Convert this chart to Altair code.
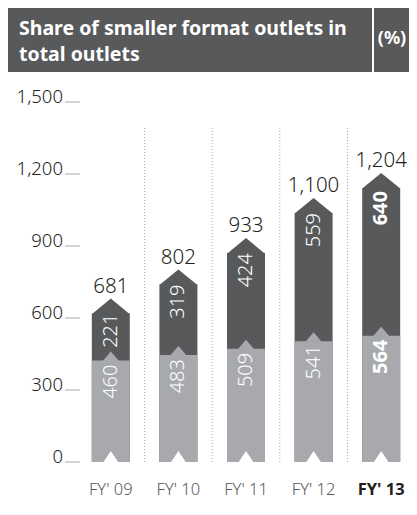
import altair as alt
import pandas as pd

# ---- data ----
years = ["FY' 09", "FY' 10", "FY' 11", "FY' 12", "FY' 13"]
lower_part = [460, 483, 509, 541, 564]
upper_part = [221, 319, 424, 559, 640]
totals = [681, 802, 933, 1100, 1204]
y_ticks = [0, 300, 600, 900, 1200, 1500]
header_lines = ["Share of smaller format outlets in", "total outlets"]
unit_label = "(%)"

df = pd.DataFrame({"year": years, "lower": lower_part, "upper": upper_part, "total": totals})
sep_df = pd.DataFrame({"year": years[1:]})
tick_df = pd.DataFrame({"tick": y_ticks})
one = pd.DataFrame({"k": [0]})

DARK = "#58595b"
LIGHT = "#a7a9ac"
INK = "#231f20"
FONT = "Noto Sans"
LIGHTW = 300
W, H = 329, 360
STEP = 67.6
X0 = -3.0

xscale = alt.Scale(domain=years, range=[X0, X0 + 5 * STEP], paddingInner=0, paddingOuter=0)
yscale = alt.Scale(domain=[0, 1500], nice=False)

last = years[-1]
not_last = alt.FieldOneOfPredicate(field="year", oneOf=years[:-1])
is_last = alt.FieldEqualPredicate(field="year", equal=last)

X = alt.X("year:N", scale=xscale, sort=years, axis=None)


def Yq(field):
    return alt.Y(f"{field}:Q", scale=yscale, axis=None, stack=None)


# dark body, full-width arrow tip
dark_rect = alt.Chart(df).mark_bar(size=38, yOffset=15, color=DARK).encode(x=X, y=Yq("total"))
TIP_BIG = "M0,0L1,0.82L-1,0.82Z"
dark_tip = alt.Chart(df).mark_point(shape=TIP_BIG, size=1444, filled=True, fill=DARK,
                                    strokeWidth=0, opacity=1).encode(x=X, y=Yq("total"))

# light body, narrow arrow tip
light_rect = alt.Chart(df).mark_bar(size=38, yOffset=9, color=LIGHT).encode(x=X, y=Yq("lower"))
TIP_SMALL = "M0,0L0.43,0.5L-0.43,0.5Z"
light_tip = alt.Chart(df).mark_point(shape=TIP_SMALL, size=1444, filled=True, fill=LIGHT,
                                     strokeWidth=0, opacity=1).encode(x=X, y=Yq("lower"))

# white notch at the base
NOTCH = "M-0.43,0.06L0.43,0.06L0,-0.58Z"
notch = alt.Chart(df).transform_calculate(base="0").mark_point(
    shape=NOTCH, size=1444, filled=True, fill="white", strokeWidth=0, opacity=1).encode(
    x=X, y=Yq("base"))

# dotted separators between years
seps = alt.Chart(sep_df).transform_calculate(lo="0", hi="1400").mark_rule(
    color="#a7a9ac", strokeDash=[1, 2], strokeWidth=1, xOffset=-STEP / 2).encode(
    x=X, y=Yq("lo"), y2="hi:Q")

# y axis (ticks + labels through the y scale)
y_tick_marks = alt.Chart(tick_df).mark_tick(
    color=LIGHT, thickness=1.5, size=15, orient="horizontal", xOffset=-7.5).encode(
    x=alt.value(0), y=Yq("tick"))
y_tick_labels = alt.Chart(tick_df).mark_text(
    align="right", baseline="alphabetic", dy=1, fontSize=18.5, color=INK, font=FONT,
    fontWeight=LIGHTW).encode(
    x=alt.value(-17), y=Yq("tick"), text=alt.Text("tick:Q", format=","))

# x axis labels
x_lbl_norm = alt.Chart(df).transform_filter(not_last).mark_text(
    baseline="alphabetic", fontSize=16.5, color=DARK, font=FONT, fontWeight=LIGHTW,
    dy=H + 33).encode(x=X, y=alt.value(0), text="year:N")
x_lbl_bold = alt.Chart(df).transform_filter(is_last).mark_text(
    baseline="alphabetic", fontSize=16.5, color=INK, font=FONT, fontWeight="bold",
    dy=H + 33).encode(x=X, y=alt.value(0), text="year:N")

total_lbl = alt.Chart(df).mark_text(dy=-6, fontSize=20.5, color=INK, baseline="alphabetic",
                                    font=FONT, fontWeight=LIGHTW).encode(
    x=X, y=Yq("total"), text=alt.Text("total:Q", format=","))


def seg_labels(field, top_field, dx, weight, pred):
    return alt.Chart(df).transform_filter(pred).mark_text(
        angle=270, align="right", baseline="middle", dx=dx, fontSize=20,
        color="white", font=FONT, fontWeight=weight).encode(
        x=X, y=Yq(top_field), text=f"{field}:Q")


labels = [
    seg_labels("upper", "total", -15, LIGHTW, not_last),
    seg_labels("upper", "total", -18, "bold", is_last),
    seg_labels("lower", "lower", -13, LIGHTW, not_last),
    seg_labels("lower", "lower", -13, "bold", is_last),
]

header_rect = alt.Chart(one).mark_rect(color=DARK).encode(
    x=alt.value(-72), x2=alt.value(W), y=alt.value(-94), y2=alt.value(-30))
header_sep = alt.Chart(one).mark_rule(color="white", strokeWidth=2).encode(
    x=alt.value(293), y=alt.value(-94), y2=alt.value(-30))
header_txt = alt.Chart(one).mark_text(align="left", baseline="alphabetic", fontSize=19.5,
                                      fontWeight="bold", color="white", lineHeight=26,
                                      font=FONT).encode(
    x=alt.value(-61), y=alt.value(-67), text=alt.value(header_lines))
unit_txt = alt.Chart(one).mark_text(align="center", baseline="alphabetic", fontSize=18,
                                    fontWeight="bold", color="white", font=FONT).encode(
    x=alt.value(312), y=alt.value(-58), text=alt.value(unit_label))

chart = alt.layer(
    dark_rect, seps, dark_tip, light_rect, light_tip, notch, total_lbl, *labels,
    y_tick_marks, y_tick_labels, x_lbl_norm, x_lbl_bold,
    header_rect, header_sep, header_txt, unit_txt,
).properties(
    width=W, height=H,
    autosize=alt.AutoSizeParams(type="none"),
    padding={"left": 72, "top": 94, "right": 0, "bottom": 45},
).configure_view(stroke=None)

chart.save("out.html", embed_options={"renderer": "svg", "actions": False})
